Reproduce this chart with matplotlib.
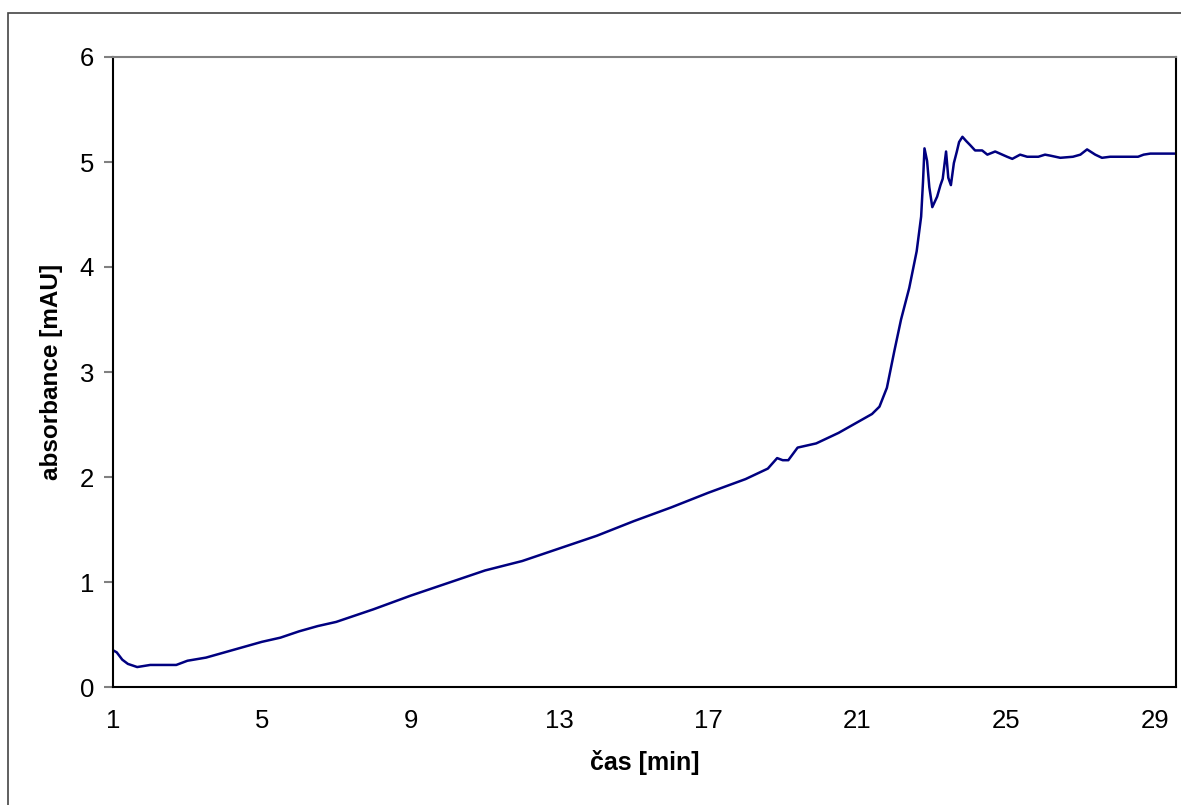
import matplotlib.pyplot as plt
from matplotlib.patches import Rectangle

plt.rcParams["font.family"] = ["Liberation Sans", "DejaVu Sans"]

# time [min] and absorbance [mAU]
cas = [1.00, 1.10, 1.25, 1.40, 1.65, 2.00, 2.40, 2.70, 3.00, 3.50, 4.00,
       4.50, 5.00, 5.50, 6.00, 6.50, 7.00, 8.00, 9.00, 10.00, 11.00, 12.00,
       13.00, 14.00, 15.00, 16.00, 17.00, 18.00, 18.60, 18.85, 19.00, 19.15,
       19.40, 19.90, 20.50, 21.00, 21.40, 21.60, 21.80, 22.00, 22.18, 22.40,
       22.60, 22.72, 22.77, 22.81, 22.88, 22.94, 23.02, 23.15, 23.24, 23.30,
       23.39, 23.45, 23.52, 23.60, 23.68, 23.74, 23.83, 23.93, 24.04, 24.17,
       24.36, 24.50, 24.71, 25.03, 25.17, 25.38, 25.57, 25.87, 26.05, 26.20,
       26.46, 26.80, 27.00, 27.18, 27.40, 27.58, 27.80, 28.55, 28.70, 28.88,
       29.57]
absorbance = [0.35, 0.33, 0.26, 0.22, 0.19, 0.21, 0.21, 0.21, 0.25, 0.28, 0.33,
              0.38, 0.43, 0.47, 0.53, 0.58, 0.62, 0.74, 0.87, 0.99, 1.11, 1.20,
              1.32, 1.44, 1.58, 1.71, 1.85, 1.98, 2.08, 2.18, 2.16, 2.16,
              2.28, 2.32, 2.42, 2.52, 2.60, 2.67, 2.85, 3.20, 3.50, 3.80,
              4.15, 4.48, 4.81, 5.13, 5.01, 4.76, 4.57, 4.67, 4.78, 4.84,
              5.10, 4.85, 4.78, 4.99, 5.10, 5.19, 5.24, 5.20, 5.16, 5.11,
              5.11, 5.07, 5.10, 5.05, 5.03, 5.07, 5.05, 5.05, 5.07, 5.06,
              5.04, 5.05, 5.07, 5.12, 5.07, 5.04, 5.05, 5.05, 5.07, 5.08,
              5.08]

x_ticks = [1, 5, 9, 13, 17, 21, 25, 29]
y_ticks = [0, 1, 2, 3, 4, 5, 6]

fig = plt.figure(figsize=(11.81, 8.05), dpi=100)
ax = fig.add_axes([113 / 1181, 1 - 687 / 805, (1176 - 113) / 1181, (687 - 57) / 805])

# outer chart border (only left and top are in the picture)
fig.patches.append(Rectangle((8 / 1181, -0.05), 1.05, 1 - 13 / 805 + 0.05,
                             transform=fig.transFigure, fill=False,
                             edgecolor="#444444", linewidth=1.2))

ax.plot(cas, absorbance, color="#000080", linewidth=1.8)

ax.set_xlim(1, 29.57)
ax.set_ylim(0, 6)
ax.set_xticks(x_ticks)
ax.set_yticks(y_ticks)
ax.tick_params(axis="x", length=0, pad=16, labelsize=18.5)
ax.tick_params(axis="y", length=6.5, width=1.5, color="#808080", pad=7, labelsize=18.5)

for side in ["left", "bottom", "right"]:
    ax.spines[side].set_color("black")
    ax.spines[side].set_linewidth(1.5)
ax.spines["top"].set_color("#808080")
ax.spines["top"].set_linewidth(1.5)

ax.set_xlabel("čas [min]", fontsize=18, fontweight="bold", labelpad=12)
ax.set_ylabel("absorbance [mAU]", fontsize=17.5, fontweight="bold", labelpad=12)

fig.savefig("out.png", dpi=100)
